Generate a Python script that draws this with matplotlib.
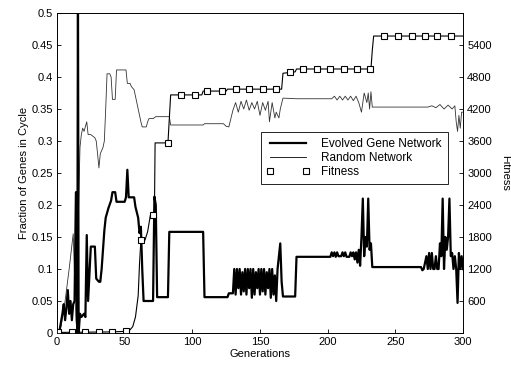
import matplotlib
matplotlib.use("Agg")
import matplotlib.pyplot as plt
from matplotlib.lines import Line2D

plt.rcParams['font.family'] = ['Liberation Sans', 'DejaVu Sans']
plt.rcParams['font.size'] = 8

# Evolved gene network (thick line): generation, fraction of genes in cycle
evolved_gen = [0, 2, 4, 5, 6, 7, 8, 9, 10, 11, 12, 13, 14, 15, 15.5, 16, 17, 18, 20, 21, 22, 23,
               25, 26, 28, 29, 31, 32, 33, 35, 36, 38, 40, 41, 43, 44, 50, 51, 52, 53, 57, 58,
               60, 61, 62, 63, 64, 71, 72, 73, 74, 82, 83, 84, 108, 109, 126, 127, 130,
               131, 132, 133, 134, 135, 136, 137, 138, 139, 140, 141, 142, 143, 144, 145, 146,
               147, 148, 149, 150, 151, 152, 153, 154, 155, 156, 157, 158, 159, 160, 161, 162,
               163, 164, 165, 166, 167, 176, 177, 202, 203, 204, 205, 206, 207, 208, 210, 211,
               212, 213, 214, 216, 217, 218, 219, 220, 221, 222, 223, 224, 225, 226, 227, 228,
               229, 230, 231, 232, 233, 269, 270, 271, 272, 273, 274, 275, 276, 277, 278, 279,
               280, 281, 282, 283, 284, 285, 286, 287, 288, 289, 290, 291, 292, 293, 294, 295,
               296, 297, 298, 299, 300]
evolved_val = [0.0, 0.005, 0.03, 0.045, 0.02, 0.04, 0.067, 0.03, 0.05, 0.02, 0.045, 0.05, 0.22, 0.0, 0.55,
               0.0, 0.03, 0.025, 0.03, 0.025, 0.153, 0.05, 0.135, 0.135, 0.135, 0.085, 0.08, 0.08,
               0.1, 0.16, 0.18, 0.195, 0.207, 0.22, 0.22, 0.205, 0.205, 0.212, 0.255, 0.212, 0.212,
               0.197, 0.18, 0.156, 0.166, 0.1, 0.05, 0.05, 0.213, 0.2, 0.056, 0.056, 0.158, 0.158,
               0.158, 0.056, 0.056, 0.062, 0.062,
               0.1, 0.06, 0.1, 0.07, 0.1, 0.06, 0.095, 0.065, 0.1, 0.06, 0.1, 0.07, 0.1, 0.055, 0.1,
               0.06, 0.095, 0.07, 0.1, 0.06, 0.1, 0.065, 0.1, 0.06, 0.095, 0.07, 0.1, 0.055, 0.1, 0.06,
               0.09, 0.05, 0.1, 0.12, 0.14, 0.08, 0.057, 0.057, 0.119, 0.119, 0.126, 0.12, 0.126,
               0.119, 0.126, 0.12, 0.12, 0.126, 0.12, 0.126, 0.119, 0.119, 0.126, 0.12, 0.126, 0.115,
               0.126, 0.11, 0.13, 0.105, 0.15, 0.21, 0.12, 0.15, 0.135, 0.21, 0.13, 0.14, 0.103, 0.103,
               0.098, 0.1, 0.11, 0.12, 0.1, 0.125, 0.1, 0.125, 0.1, 0.1, 0.12, 0.1, 0.1, 0.14, 0.12,
               0.21, 0.1, 0.15, 0.13, 0.15, 0.21, 0.12, 0.125, 0.1, 0.12, 0.1, 0.047, 0.125, 0.1, 0.12,
               0.1]

# Random network (thin line)
random_gen = [0, 3, 6, 9, 12, 14, 15, 16, 17, 18, 19, 20, 22, 23, 25, 28, 29, 30, 31, 32, 34, 35,
              36, 37, 39, 40, 41, 43, 44, 51, 52, 54, 55, 57, 58, 59, 60, 61, 62, 63, 66, 67, 68,
              71, 73, 83, 84, 108, 109, 123, 125, 127, 130, 132, 134, 136, 138, 140, 142, 144,
              146, 148, 150, 152, 154, 156, 157, 159, 161, 162, 164, 165, 167, 177, 203, 205, 207,
              209, 211, 213, 215, 217, 219, 221, 223, 225, 227, 229, 230, 231, 232, 233, 274, 277,
              280, 283, 286, 289, 292, 294, 295, 296, 297, 298, 299, 300]
random_val = [0.0, 0.01, 0.05, 0.1, 0.155, 0.02, 0.0, 0.2, 0.29, 0.31, 0.32, 0.315, 0.33, 0.31,
              0.31, 0.305, 0.3, 0.28, 0.258, 0.28, 0.29, 0.3, 0.35, 0.405, 0.405, 0.4, 0.365, 0.365,
              0.411, 0.411, 0.39, 0.39, 0.385, 0.38, 0.37, 0.36, 0.35, 0.34, 0.33, 0.322, 0.322,
              0.33, 0.335, 0.335, 0.338, 0.338, 0.325, 0.325, 0.327, 0.327, 0.323, 0.322, 0.348,
              0.36, 0.345, 0.362, 0.35, 0.364, 0.348, 0.36, 0.35, 0.362, 0.34, 0.36, 0.348, 0.362,
              0.33, 0.36, 0.336, 0.345, 0.336, 0.35, 0.367, 0.366, 0.366, 0.37, 0.364, 0.37, 0.364,
              0.37, 0.364, 0.37, 0.363, 0.37, 0.36, 0.345, 0.375, 0.36, 0.375, 0.35, 0.377, 0.353,
              0.353, 0.355, 0.352, 0.357, 0.35, 0.356, 0.35, 0.355, 0.33, 0.315, 0.34, 0.32, 0.345,
              0.345]

# Fitness (right axis)
fitness_gen = [0, 40, 50, 53, 54, 56, 58, 60, 61, 62, 65, 67, 69, 72, 72.5, 82, 84, 107, 108, 125,
               126, 166, 167, 176, 177, 232, 233, 234, 300]
fitness_val = [10, 20, 30, 40, 60, 120, 300, 700, 1300, 1740, 1740, 1900, 2208, 2208, 3564, 3564,
               4464, 4464, 4536, 4536, 4572, 4572, 4870, 4896, 4950, 4950, 5300, 5568, 5568]
marker_gen = [1, 11, 21, 31, 41, 51, 62, 71, 82, 92, 102, 111, 122, 132, 142, 152, 162, 172, 182,
              192, 202, 212, 222, 231, 242, 252, 262, 272, 281, 291]
marker_val = [10, 10, 10, 10, 20, 30, 1740, 2208, 3564, 4464, 4464, 4536, 4536, 4572, 4572, 4572,
              4572, 4896, 4950, 4950, 4950, 4950, 4950, 4950, 5568, 5568, 5568, 5568, 5568, 5568]

fig = plt.figure(figsize=(5.11, 3.66), dpi=100)
ax1 = fig.add_axes([0.1115, 0.0902, 0.7945, 0.8743])
ax2 = ax1.twinx()

ax1.plot(random_gen, random_val, color='#333333', linewidth=0.6)
ax1.plot(evolved_gen, evolved_val, color='black', linewidth=1.6)
ax2.plot(fitness_gen, fitness_val, color='black', linewidth=0.8)
ax2.plot(marker_gen, marker_val, linestyle='none', marker='s', markersize=4,
         markerfacecolor='white', markeredgecolor='black', markeredgewidth=0.8)

ax1.set_xlim(0, 300)
ax1.set_ylim(0, 0.5)
ax2.set_ylim(0, 6000)
ax1.set_xticks([0, 50, 100, 150, 200, 250, 300])
ax1.set_yticks([0, 0.05, 0.1, 0.15, 0.2, 0.25, 0.3, 0.35, 0.4, 0.45, 0.5])
ax1.set_yticklabels(['0', '0.05', '0.1', '0.15', '0.2', '0.25', '0.3', '0.35', '0.4', '0.45', '0.5'])
ax2.set_yticks([600, 1200, 1800, 2400, 3000, 3600, 4200, 4800, 5400])

for ax in (ax1, ax2):
    ax.tick_params(direction='in', length=3, width=0.6, labelsize=8, pad=3)
    for s in ax.spines.values():
        s.set_linewidth(0.6)

ax1.set_xlabel('Generations', labelpad=1)
ax1.set_ylabel('Fraction of Genes in Cycle', labelpad=2)
ax2.set_ylabel('Fitness', rotation=-90, labelpad=13)

handles = [Line2D([], [], color='black', linewidth=1.6),
           Line2D([], [], color='black', linewidth=0.6),
           Line2D([], [], linestyle='none', marker='s', markersize=4, markerfacecolor='white',
                  markeredgecolor='black', markeredgewidth=0.8)]
leg = ax2.legend(handles, ['Evolved Gene Network', 'Random Network', 'Fitness'],
                 loc='upper left', bbox_to_anchor=(0.488, 0.645), numpoints=2,
                 handlelength=3.6, handletextpad=1.0, borderpad=0.5, labelspacing=0.15,
                 fancybox=False, framealpha=1, edgecolor='black', fontsize=8.5)
leg.get_frame().set_linewidth(0.6)

fig.savefig('out.png', dpi=100)
